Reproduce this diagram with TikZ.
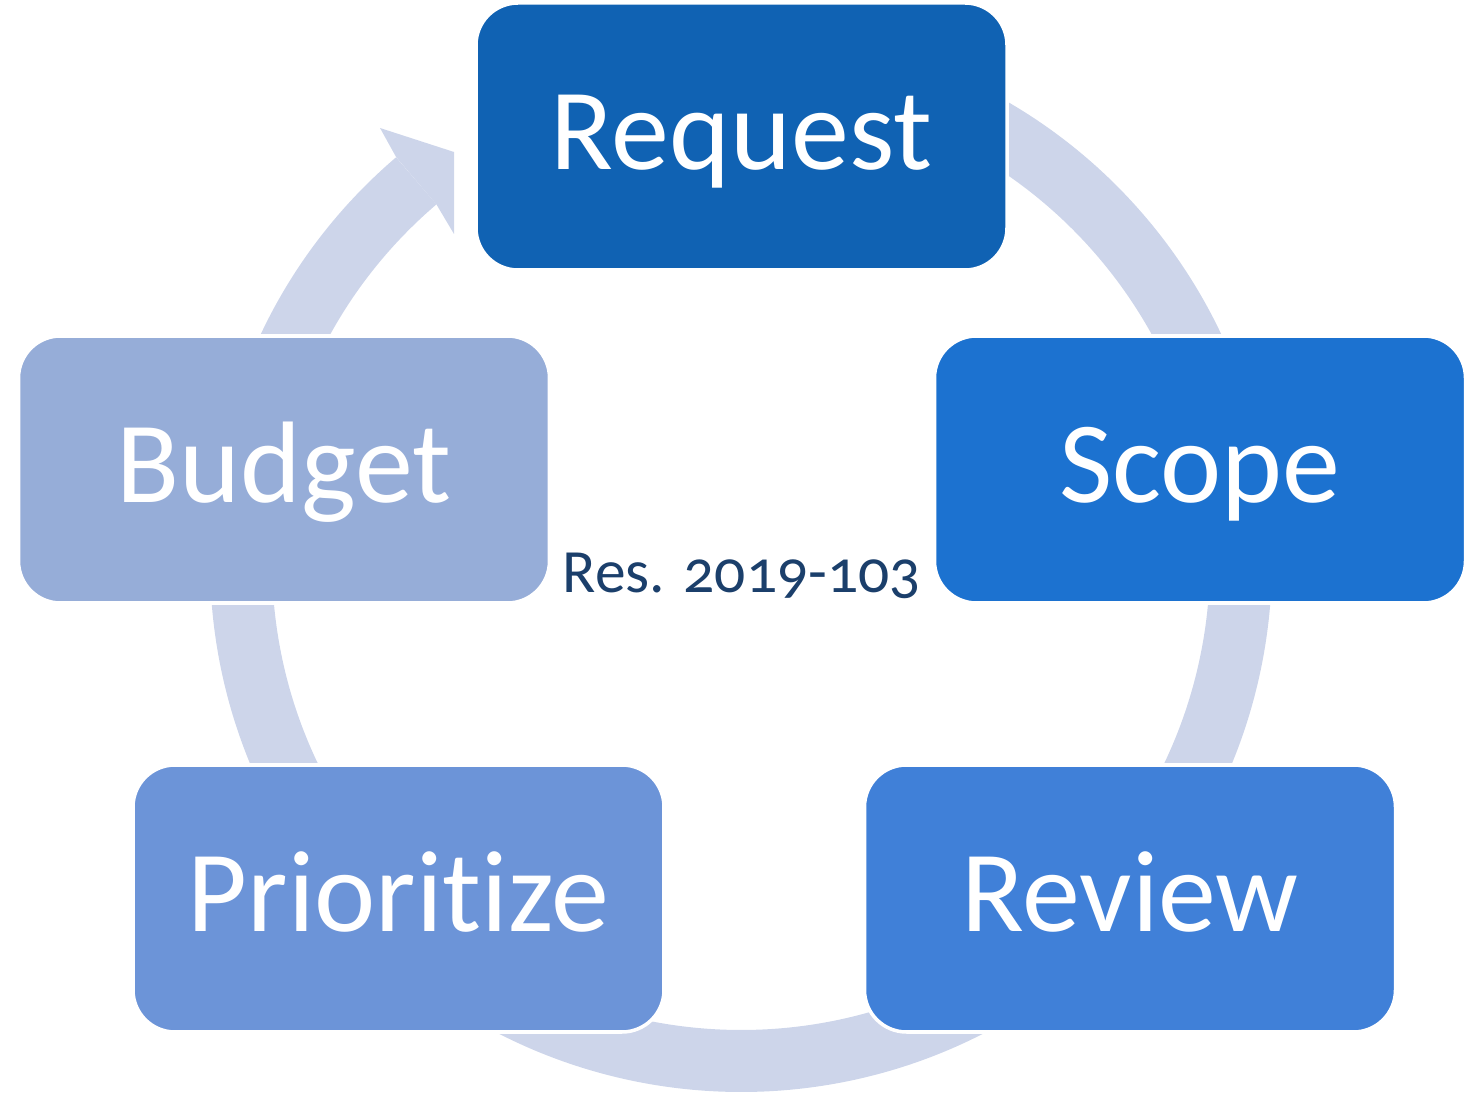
\documentclass[tikz,border=0pt]{standalone}
\usepackage{fontspec}
\setmainfont{Carlito}[Ligatures=NoCommon]
\usepackage{tikz}
\definecolor{ring}{RGB}{205,213,234}
\definecolor{creq}{RGB}{16,98,179}
\definecolor{cscope}{RGB}{28,114,208}
\definecolor{creview}{RGB}{64,128,216}
\definecolor{cprio}{RGB}{108,148,216}
\definecolor{cbudget}{RGB}{150,173,216}
\definecolor{navy}{RGB}{27,63,107}
\newcommand{\steptext}[1]{\raisebox{-3.35mm}[0pt][0pt]{#1}}
\tikzset{
  stepbox/.style={draw=white,line width=1pt,rounded corners=4.2mm,minimum width=5.31cm,
    minimum height=2.67cm,inner sep=0pt,text=white,font=\fontsize{33}{36}\selectfont},
  ringline/.style={draw=ring,line width=6.2mm},
}
\begin{document}
\begin{tikzpicture}
\useasboundingbox (0,0) rectangle (14.66,-10.95);
\coordinate (c) at (7.41,-5.61);
% ring and arrow head
\draw[ringline] (c) ++(-229.5:5) arc[start angle=-229.5,end angle=100,radius=5];
\fill[ring] (3.962,-1.572) -- (3.80,-1.28) -- (4.54,-1.52) -- (4.54,-2.34) -- (4.364,-2.044) -- cycle;
% steps
\node[stepbox,fill=creq] (req) at (7.415,-1.365) {\steptext{Request}};
\node[stepbox,fill=cscope] (scope) at (12.00,-4.695) {\steptext{Scope}};
\node[stepbox,fill=creview] (review) at (11.30,-8.985) {\steptext{Review}};
\node[stepbox,fill=cprio] (prio) at (3.985,-8.985) {\steptext{Prioritize}};
\node[stepbox,fill=cbudget] (budget) at (2.84,-4.695) {\steptext{Budget}};
\node[text=navy,font=\fontsize{17.5}{20}\selectfont\addfontfeatures{Numbers=OldStyle},anchor=base west,inner sep=0pt]
  (res) at (5.62,-5.93) {Res. 2019-103};
\end{tikzpicture}
\end{document}
